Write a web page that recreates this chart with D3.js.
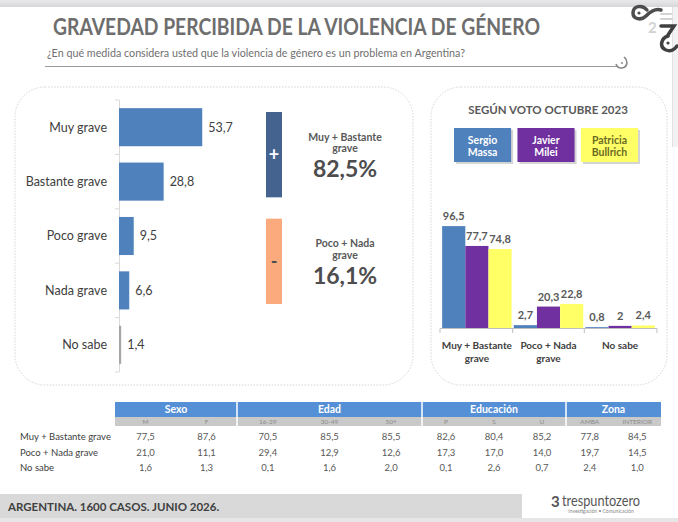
<!DOCTYPE html>
<html><head><meta charset="utf-8">
<script src="https://cdn.jsdelivr.net/npm/d3@7"></script>
<style>
html,body{margin:0;padding:0;background:#fff;}
svg{display:block;font-family:Lato,"Open Sans",sans-serif;}
</style>
</head><body>
<svg id="chart" width="678" height="522"></svg>
<script>
// ---------- DATA ----------
const title = "GRAVEDAD PERCIBIDA DE LA VIOLENCIA DE GÉNERO";
const subtitle = "¿En qué medida considera usted que la violencia de género es un problema en Argentina?";

const categories = ["Muy grave", "Bastante grave", "Poco grave", "Nada grave", "No sabe"];
const values = [53.7, 28.8, 9.5, 6.6, 1.4];

const summarySigns = ["+", "-"];
const summaryLabels = [["Muy + Bastante", "grave"], ["Poco + Nada", "grave"]];
const summaryValues = [82.5, 16.1];

const voteTitle = "SEGÚN VOTO OCTUBRE 2023";
const candidates = ["Sergio Massa", "Javier Milei", "Patricia Bullrich"];
const voteGroups = [["Muy + Bastante", "grave"], ["Poco + Nada", "grave"], ["No sabe"]];
const massa = [96.5, 2.7, 0.8];
const milei = [77.7, 20.3, 2];
const bullrich = [74.8, 22.8, 2.4];

const tableGroups = ["Sexo", "Edad", "Educación", "Zona"];
const tableColumns = [["M", "F"], ["16-29", "30-49", "50+"], ["P", "S", "U"], ["AMBA", "INTERIOR"]];
const tableRows = ["Muy + Bastante grave", "Poco + Nada grave", "No sabe"];
const rowMuyBastante = [77.5, 87.6, 70.5, 85.5, 85.5, 82.6, 80.4, 85.2, 77.8, 84.5];
const rowPocoNada = [21.0, 11.1, 29.4, 12.9, 12.6, 17.3, 17.0, 14.0, 19.7, 14.5];
const rowNoSabe = [1.6, 1.3, 0.1, 1.6, 2.0, 0.1, 2.6, 0.7, 2.4, 1.0];

const footerText = "ARGENTINA. 1600 CASOS. JUNIO 2026.";
const brandName = "trespuntozero";
const brandSub = "Investigación • Comunicación";

// ---------- STYLE ----------
const C = {
  text: "#404040", title: "#6e6e6e", grey: "#595959",
  bar: "#4f81bd", nosabe: "#a6a6a6",
  plus: "#44648f", minus: "#fbaa7e",
  cand: ["#4f81bd", "#7030a0", "#ffff66"],
  candText: ["#ffffff", "#ffffff", "#6b6b24"],
  head: "#5590d6", sub: "#c9c9c9"
};
const comma = v => String(v).replace(".", ",");
const svg = d3.select("#chart");

// ---------- BACKGROUND / FRAME ----------
const defs = svg.append("defs");
const g1 = defs.append("linearGradient").attr("id", "topg").attr("x1", 0).attr("x2", 0).attr("y1", 0).attr("y2", 1);
g1.append("stop").attr("offset", "0%").attr("stop-color", "#e9e9eb");
g1.append("stop").attr("offset", "100%").attr("stop-color", "#d6d6d8");
svg.append("rect").attr("x", 0).attr("y", 0).attr("width", 678).attr("height", 7).attr("fill", "url(#topg)");
svg.append("rect").attr("x", 672).attr("y", 7).attr("width", 6).attr("height", 140).attr("fill", "#f2f2f2");
svg.append("line").attr("x1", 672.5).attr("x2", 672.5).attr("y1", 7).attr("y2", 147).attr("stroke", "#e2e2e2");

// top-right decoration
const deco = svg.append("g").attr("fill", "none").attr("stroke-linecap", "round");
deco.append("path").attr("d", "M647,10 C642,4 633,6 633,13 C633,19 641,21 646,16 C650,12 655,8 661,10").attr("stroke", "#4d4d4d").attr("stroke-width", 3.5);
deco.append("circle").attr("cx", 639).attr("cy", 13).attr("r", 1.6).attr("fill", "#4d4d4d").attr("stroke", "none");
svg.append("text").attr("x", 648).attr("y", 33).attr("font-size", 15).attr("font-weight", 700).attr("fill", "#d2d2d2").text("2");
deco.append("path").attr("d", "M661,14 L671,14").attr("stroke", "#d2d2d2").attr("stroke-width", 2);
deco.append("path").attr("d", "M661,19 L672,19").attr("stroke", "#d2d2d2").attr("stroke-width", 2);
deco.append("path").attr("d", "M661,26 L674,26 L668,35").attr("stroke", "#404040").attr("stroke-width", 3.5);
deco.append("path").attr("d", "M668,36 C661,38 659,47 666,50 C671,52 675,49 677,46").attr("stroke", "#404040").attr("stroke-width", 3.5);
deco.append("circle").attr("cx", 668).attr("cy", 43).attr("r", 1.6).attr("fill", "#404040").attr("stroke", "none");

// ---------- TITLE ----------
svg.append("text").attr("x", 53).attr("y", 35).attr("font-size", 22).attr("font-weight", 700)
  .attr("fill", C.title).attr("textLength", 487).attr("lengthAdjust", "spacingAndGlyphs").text(title);
svg.append("text").attr("x", 47).attr("y", 57).attr("font-size", 11).attr("fill", "#707070")
  .attr("textLength", 418).attr("lengthAdjust", "spacingAndGlyphs").text(subtitle);
svg.append("line").attr("x1", 45).attr("x2", 617).attr("y1", 66.5).attr("y2", 66.5).attr("stroke", "#9a9a9a").attr("stroke-width", 1.2);
svg.append("path").attr("d", "M616,64 C618,70 626,69 627,63 C627,59 625,58 624,57").attr("fill", "none").attr("stroke", "#8a8a8a").attr("stroke-width", 1.6);
svg.append("circle").attr("cx", 622).attr("cy", 63).attr("r", 1).attr("fill", "#8a8a8a");

// ---------- PANELS ----------
[[15, 87, 398, 298], [431, 87, 236, 298]].forEach(([x, y, w, h]) => {
  svg.append("rect").attr("x", x).attr("y", y).attr("width", w).attr("height", h).attr("rx", 30).attr("ry", 30)
    .attr("fill", "none").attr("stroke", "#cfcfcf").attr("stroke-width", 0.9).attr("stroke-dasharray", "1.5,1.5");
});

// ---------- LEFT BAR CHART ----------
const yL = d3.scaleBand().domain(categories).range([100, 372]).paddingInner(0.3).paddingOuter(0.15);
const xL = d3.scaleLinear().domain([0, 60]).range([119, 212]);
const left = svg.append("g");
left.append("line").attr("x1", 119.5).attr("x2", 119.5).attr("y1", 100).attr("y2", 372).attr("stroke", "#d9d9d9");
d3.range(categories.length + 1).forEach(i => {
  const yy = 100 + i * yL.step();
  left.append("line").attr("x1", 115).attr("x2", 119.5).attr("y1", yy).attr("y2", yy).attr("stroke", "#d9d9d9");
});
left.selectAll("rect.bar").data(values).join("rect").attr("class", "bar")
  .attr("x", xL(0)).attr("y", (d, i) => yL(categories[i]))
  .attr("width", d => xL(d) - xL(0)).attr("height", yL.bandwidth())
  .attr("fill", (d, i) => i === categories.length - 1 ? C.nosabe : C.bar);
left.selectAll("text.val").data(values).join("text").attr("class", "val")
  .attr("x", d => xL(d) + 6).attr("y", (d, i) => yL(categories[i]) + yL.bandwidth() / 2)
  .attr("dy", "0.35em").attr("font-size", 12.5).attr("fill", C.text).text(d => comma(d));
left.selectAll("text.cat").data(categories).join("text").attr("class", "cat")
  .attr("x", 107).attr("y", d => yL(d) + yL.bandwidth() / 2).attr("dy", "0.35em")
  .attr("text-anchor", "end").attr("font-size", 12.5).attr("fill", C.text).text(d => d);

// ---------- SUMMARY BOXES ----------
const yS = d3.scaleBand().domain(d3.range(summaryValues.length)).range([112, 304]).paddingInner(0.2);
summaryValues.forEach((v, i) => {
  const top = yS(i), bh = yS.bandwidth();
  svg.append("rect").attr("x", 266).attr("y", top).attr("width", 16).attr("height", bh)
    .attr("fill", i === 0 ? C.plus : C.minus);
  svg.append("text").attr("x", 274).attr("y", top + bh / 2).attr("dy", "0.35em").attr("text-anchor", "middle")
    .attr("font-size", 18).attr("font-weight", 700).attr("fill", i === 0 ? "#fff" : "#4d4d4d").text(summarySigns[i]);
  summaryLabels[i].forEach((t, j) => {
    svg.append("text").attr("x", 345).attr("y", top + 25 + j * 11.5).attr("dy", "0.35em").attr("text-anchor", "middle")
      .attr("font-size", 10.5).attr("font-weight", 700).attr("fill", C.grey).text(t);
  });
  svg.append("text").attr("x", 345).attr("y", top + 57).attr("dy", "0.35em").attr("text-anchor", "middle")
    .attr("font-size", 23).attr("font-weight", 700).attr("fill", "#4d4d4d").text(comma(v) + "%");
});

// ---------- RIGHT GROUPED CHART ----------
const right = svg.append("g");
right.append("text").attr("x", 548).attr("y", 110).attr("dy", "0.35em").attr("text-anchor", "middle")
  .attr("font-size", 11.5).attr("font-weight", 700).attr("fill", C.grey).text(voteTitle);

const xLeg = d3.scaleBand().domain(candidates).range([454, 638]).paddingInner(0.1);
candidates.forEach((c, i) => {
  const x = xLeg(c);
  right.append("rect").attr("x", x + 2).attr("y", 130).attr("width", xLeg.bandwidth()).attr("height", 34).attr("fill", "#d4d4d4");
  right.append("rect").attr("x", x).attr("y", 128).attr("width", xLeg.bandwidth()).attr("height", 34).attr("fill", C.cand[i]);
  c.split(" ").forEach((w, j) => {
    right.append("text").attr("x", x + xLeg.bandwidth() / 2).attr("y", 140 + j * 12).attr("dy", "0.35em")
      .attr("text-anchor", "middle").attr("font-size", 10.5).attr("font-weight", 700).attr("fill", C.candText[i]).text(w);
  });
});

const series = [massa, milei, bullrich];
const groupKeys = voteGroups.map(g => g.join(" "));
const x0 = d3.scaleBand().domain(groupKeys).range([440, 657]).padding(0.03);
const x1 = d3.scaleBand().domain(candidates).range([0, x0.bandwidth()]);
const yR = d3.scaleLinear().domain([0, 100]).range([328, 222.4]);

candidates.forEach((c, si) => {
  right.selectAll("rect.s" + si).data(series[si]).join("rect").attr("class", "s" + si)
    .attr("x", (d, gi) => x0(groupKeys[gi]) + x1(c)).attr("y", d => yR(d))
    .attr("width", x1.bandwidth()).attr("height", d => yR(0) - yR(d)).attr("fill", C.cand[si]);
  right.selectAll("text.v" + si).data(series[si]).join("text").attr("class", "v" + si)
    .attr("x", (d, gi) => x0(groupKeys[gi]) + x1(c) + x1.bandwidth() / 2).attr("y", d => yR(d) - 6)
    .attr("text-anchor", "middle").attr("font-size", 11).attr("font-weight", 700).attr("fill", C.grey).text(d => comma(d));
});
right.append("line").attr("x1", 440).attr("x2", 657).attr("y1", 328.5).attr("y2", 328.5).attr("stroke", "#bfbfbf");
d3.range(groupKeys.length + 1).forEach(i => {
  const xx = i < groupKeys.length ? x0(groupKeys[i]) - x0.step() * x0.paddingInner() / 2 : 657;
  const xv = i === 0 ? 440 : xx;
  right.append("line").attr("x1", xv).attr("x2", xv).attr("y1", 328.5).attr("y2", 333).attr("stroke", "#bfbfbf");
});
voteGroups.forEach((lines, gi) => {
  lines.forEach((t, j) => {
    right.append("text").attr("x", x0(groupKeys[gi]) + x0.bandwidth() / 2).attr("y", 345 + j * 13).attr("dy", "0.35em")
      .attr("text-anchor", "middle").attr("font-size", 10).attr("font-weight", 700).attr("fill", C.text).text(t);
  });
});

// ---------- TABLE ----------
const groupEdges = [115, 237, 422, 566, 661];
const tableData = [rowMuyBastante, rowPocoNada, rowNoSabe];
const tbl = svg.append("g");
tbl.append("rect").attr("x", groupEdges[0]).attr("y", 402).attr("width", groupEdges[4] - groupEdges[0]).attr("height", 15).attr("fill", C.head);
tbl.append("rect").attr("x", groupEdges[0]).attr("y", 417).attr("width", groupEdges[4] - groupEdges[0]).attr("height", 9).attr("fill", C.sub);
const colCenters = [];
tableGroups.forEach((g, gi) => {
  const xs = d3.scaleBand().domain(tableColumns[gi]).range([groupEdges[gi], groupEdges[gi + 1]]);
  tbl.append("text").attr("x", (groupEdges[gi] + groupEdges[gi + 1]) / 2).attr("y", 409.5).attr("dy", "0.35em")
    .attr("text-anchor", "middle").attr("font-size", 10.5).attr("font-weight", 700).attr("fill", "#fff").text(g);
  tableColumns[gi].forEach(c => {
    const cx = xs(c) + xs.bandwidth() / 2;
    colCenters.push(cx);
    tbl.append("text").attr("x", cx).attr("y", 421.5).attr("dy", "0.35em").attr("text-anchor", "middle")
      .attr("font-size", 6.5).attr("fill", "#8c8c8c").text(c);
  });
  if (gi > 0) tbl.append("line").attr("x1", groupEdges[gi]).attr("x2", groupEdges[gi]).attr("y1", 402).attr("y2", 426)
    .attr("stroke", "#fff").attr("stroke-width", 1.5);
});
const yT = d3.scalePoint().domain(tableRows).range([437, 468]);
tableRows.forEach((r, ri) => {
  tbl.append("text").attr("x", 20).attr("y", yT(r)).attr("dy", "0.35em").attr("font-size", 9.5).attr("fill", C.text).text(r);
  tableData[ri].forEach((v, ci) => {
    tbl.append("text").attr("x", colCenters[ci]).attr("y", yT(r)).attr("dy", "0.35em").attr("text-anchor", "middle")
      .attr("font-size", 9.5).attr("fill", C.grey).text(v.toFixed(1).replace(".", ","));
  });
});

// ---------- FOOTER ----------
svg.append("rect").attr("x", 0).attr("y", 494).attr("width", 522).attr("height", 24).attr("fill", "#d9d9d9");
svg.append("rect").attr("x", 0).attr("y", 518).attr("width", 678).attr("height", 4).attr("fill", "#e6e6e6");
svg.append("text").attr("x", 8).attr("y", 507).attr("dy", "0.35em").attr("font-size", 11.5).attr("font-weight", 700)
  .attr("fill", C.text).text(footerText);
svg.append("text").attr("x", 551).attr("y", 502).attr("dy", "0.35em").attr("font-size", 15).attr("font-weight", 700)
  .attr("fill", "#555").text("3");
svg.append("text").attr("x", 562).attr("y", 501).attr("dy", "0.35em").attr("font-size", 14.5)
  .attr("fill", "#555").attr("textLength", 78).attr("lengthAdjust", "spacingAndGlyphs").text(brandName);
svg.append("text").attr("x", 601).attr("y", 511).attr("dy", "0.35em").attr("text-anchor", "middle").attr("font-size", 5)
  .attr("fill", "#888").text(brandSub);
</script>
</body></html>
